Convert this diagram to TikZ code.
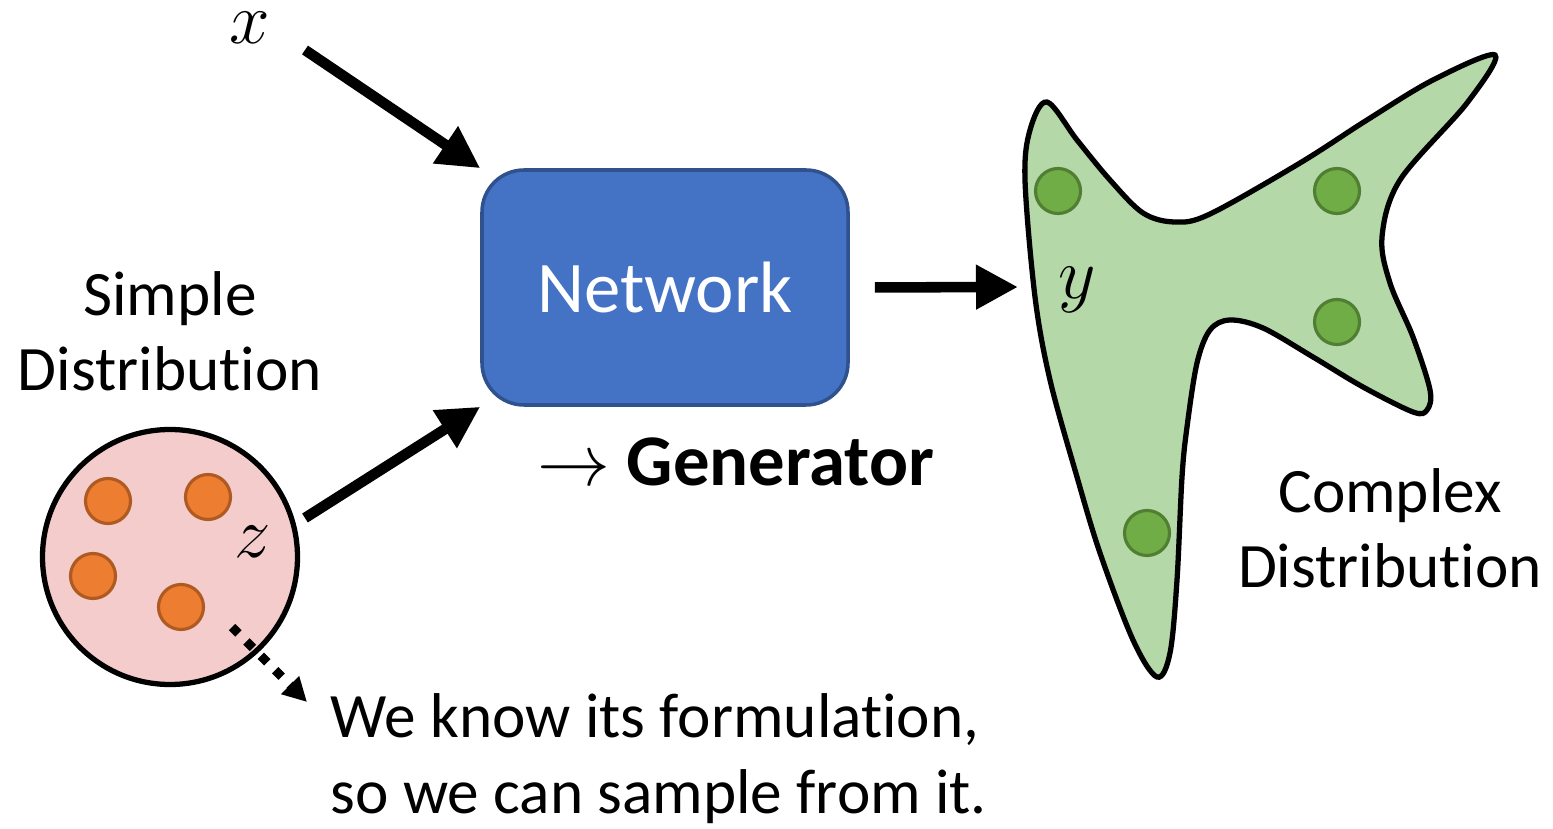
\documentclass[tikz,border=0pt]{standalone}
\usepackage{fontspec}
\setmainfont{Carlito}[Ligatures=NoCommon]
\usepackage{tikz}
\usetikzlibrary{positioning}
\usetikzlibrary{arrows.meta}
\definecolor{netblue}{HTML}{4472C4}
\definecolor{netedge}{HTML}{2F528F}
\definecolor{pinkfill}{HTML}{F4CCCC}
\definecolor{dotorange}{HTML}{ED7D31}
\definecolor{dotorangeedge}{HTML}{AE5A21}
\definecolor{blobgreen}{HTML}{B5D8A8}
\definecolor{dotgreen}{HTML}{70AD47}
\definecolor{dotgreenedge}{HTML}{507E32}

\begin{document}
\begin{tikzpicture}[
  bigarrow/.style={line width=3pt, -{Triangle[length=0.42cm,width=0.42cm]}},
  dotarrow/.style={line width=2.6pt, dash pattern=on 2.6pt off 3.2pt, -{Triangle[length=0.24cm,width=0.24cm]}},
  lbl/.style={font=\fontsize{18}{22}\selectfont, align=center, inner sep=0pt},
  mathlbl/.style={font=\fontsize{21}{24}\selectfont, inner sep=0pt},
  sample/.style={circle, minimum size=0.45cm, inner sep=0pt, line width=0.9pt}
]
\useasboundingbox (0,0) rectangle (15.53,8.28);

% network box
\node[draw=netedge, line width=1pt, fill=netblue, rounded corners=0.42cm,
      minimum width=3.66cm, minimum height=2.35cm, text=white,
      font=\fontsize{20.7}{24}\selectfont] (net) at (6.65,5.405) {Network};
\node[font=\fontsize{20.7}{24}\selectfont, inner sep=0pt] (gen) at (7.36,3.66) {$\rightarrow$ \textbf{Generator}};

% simple distribution
\node[circle, draw, line width=1.5pt, fill=pinkfill, minimum size=2.55cm, inner sep=0pt] (simple) at (1.70,2.71) {};
\foreach \p [count=\i] in {(1.08,3.27),(2.08,3.31),(0.93,2.52),(1.81,2.21)}
  \node[sample, draw=dotorangeedge, fill=dotorange] (zs\i) at \p {};
\node[mathlbl] (zlbl) at (2.53,2.86) {$z$};
\node[lbl] (simplelbl) at (1.70,4.965) {Simple\\[-0.02cm]Distribution};

% complex distribution
\draw[line width=1.5pt, fill=blobgreen] plot[smooth cycle, tension=0.55] coordinates {
  (10.47,7.26) (10.77,6.88) (11.10,6.48) (11.43,6.15) (11.75,6.06) (12.10,6.14)
  (13.00,6.65) (13.67,7.08) (14.33,7.48) (14.95,7.73) (14.67,7.25) (14.00,6.48)
  (13.82,5.91) (13.90,5.45) (14.13,4.91) (14.30,4.38) (14.27,4.18) (14.13,4.16)
  (13.63,4.41) (13.13,4.71) (12.63,5.00) (12.30,5.08) (12.10,4.98) (11.97,4.65)
  (11.87,4.01) (11.82,3.51) (11.77,2.48) (11.70,1.75) (11.57,1.51) (11.33,1.88)
  (11.00,2.75) (10.77,3.51) (10.50,4.48) (10.35,5.31) (10.25,6.48) (10.30,6.98)};
\foreach \p [count=\i] in {(10.58,6.37),(13.37,6.37),(13.37,5.06),(11.47,2.95)}
  \node[sample, draw=dotgreenedge, fill=dotgreen] (ys\i) at \p {};
\node[mathlbl] (ylbl) at (10.77,5.38) {$y$};
\node[lbl] (complexlbl) at (13.90,3.0) {Complex\\[-0.02cm]Distribution};

% input x
\node[mathlbl] (xlbl) at (2.50,8.00) {$x$};

% connectors
\coordinate (xstart) at (3.05,7.78);
\coordinate (zstart) at (3.05,3.10);
\coordinate (yend) at (10.18,5.41);
\draw[bigarrow] (xstart) -- (net.north west);
\draw[bigarrow] (zstart) -- (net.south west);
\draw[bigarrow, shorten <=0.25cm] (net.east) -- (yend);

% note
\coordinate (notestart) at (2.32,2.01);
\coordinate (noteend) at (3.07,1.26);
\draw[dotarrow] (notestart) -- (noteend);
\node[lbl, anchor=west, align=left] (note) at (3.30,0.695) {We know its formulation,\\[-0.02cm]so we can sample from it.};

\end{tikzpicture}
\end{document}
